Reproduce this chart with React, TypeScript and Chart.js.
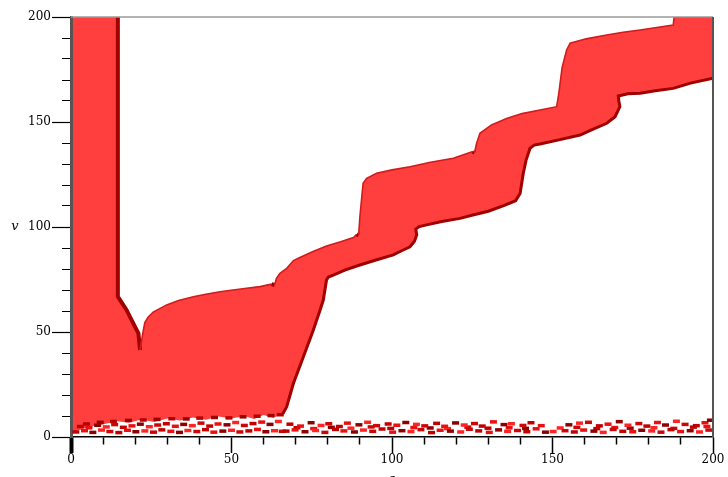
import React, { useEffect, useRef } from "react";
import { Chart, registerables } from "chart.js";

Chart.register(...registerables);

// ---- data ----
const xMajor = [0, 50, 100, 150, 200];
const yMajor = [0, 50, 100, 150, 200];
const xLabel = "ε";
const yLabel = "v";

// upper boundary of the red region (left to right)
const upperX = [0.6, 14.6, 14.6, 17.3, 19.4, 21.0, 21.5, 22.0, 22.5, 23.0, 24.0, 25.6, 29.8, 33.5, 38.1, 42.0, 46.4, 50.5, 54.7, 58.9, 62.5, 63.4, 64.0, 65.1, 67.2, 69.3, 71.3, 75.4, 79.6, 84.0, 88.0, 89.0, 89.6, 90.0, 90.5, 91.0, 92.1, 95.2, 100.0, 105.6, 112.0, 119.1, 125.2, 125.7, 126.3, 127.4, 131.0, 135.7, 140.5, 146.1, 151.3, 152.0, 153.0, 154.4, 155.5, 160.5, 166.9, 172.0, 177.3, 182.5, 187.6, 187.9, 200];
const upperY = [200, 200, 66.8, 60.5, 54.1, 49.4, 41.4, 46.0, 50.5, 54.5, 57.0, 59.5, 62.9, 65.0, 66.8, 68.0, 69.2, 70.0, 70.8, 71.6, 72.8, 72.4, 75.6, 77.9, 80.3, 84.0, 85.5, 88.3, 91.0, 93.0, 95.0, 96.5, 96.0, 104.9, 112.9, 120.8, 123.2, 125.6, 127.2, 128.7, 130.8, 132.7, 135.9, 135.3, 139.5, 144.6, 148.6, 151.7, 154.0, 155.7, 157.3, 164.0, 176.0, 184.3, 187.5, 189.6, 191.4, 192.7, 193.8, 195.0, 196.2, 200, 200];

// lower boundary of the red region (right to left)
const lowerX = [200, 193.0, 187.6, 182.0, 177.3, 173.5, 170.5, 170.6, 171.0, 169.5, 166.9, 162.5, 158.6, 152.0, 146.1, 144.3, 143.0, 141.8, 140.9, 139.9, 138.5, 135.0, 130.0, 125.5, 121.2, 115.5, 110.8, 108.5, 107.4, 107.7, 107.0, 105.6, 103.0, 100.4, 95.0, 90.0, 85.5, 81.7, 80.2, 79.6, 78.6, 77.6, 75.5, 72.4, 69.3, 67.2, 66.0, 63, 60, 57, 54, 50, 46, 42, 38, 34, 30, 26, 22, 18, 14, 10, 6, 3, 0.6];
const lowerY = [170.8, 168.5, 166.0, 164.9, 163.7, 163.4, 162.4, 160.5, 157.3, 152.5, 149.4, 146.5, 143.8, 141.5, 139.5, 139.0, 137.5, 132.0, 125.6, 116.0, 112.5, 110.3, 107.5, 105.8, 104.1, 102.6, 101.0, 100.2, 99.0, 96.2, 93.2, 90.6, 88.7, 86.7, 84.3, 81.9, 79.6, 77.1, 76.2, 74.8, 65.2, 60.5, 51.0, 38.2, 25.6, 14.4, 11.0, 9.2, 10.5, 8.6, 10.0, 8.8, 9.8, 8.2, 9.3, 7.8, 8.8, 7.2, 8.3, 6.8, 7.6, 6.0, 5.0, 3.5, 2.5];

// scattered blobs along the bottom
const blobsAX = [68.2, 71.5, 74.8, 77.9, 80.3, 83.6, 86.1, 89.7, 92.4, 95.2, 98.8, 101.5, 104.3, 107.6, 110.2, 113.9, 116.4, 119.8, 122.5, 125.7, 128.1, 131.6, 134.9, 137.2, 140.8, 143.3, 146.5, 155.1, 158.4, 161.2, 164.6, 167.3, 170.8, 173.5, 176.9, 179.4, 182.7, 185.2, 188.6, 191.3, 194.8, 197.5, 199.2];
const blobsAY = [6.1, 5.2, 6.8, 5.5, 6.3, 5.0, 6.6, 5.8, 7.0, 5.4, 6.2, 5.6, 6.9, 6.0, 5.3, 6.5, 5.1, 6.7, 5.7, 6.4, 5.2, 7.2, 5.9, 6.3, 5.5, 6.8, 5.4, 5.8, 6.6, 7.0, 5.3, 6.1, 7.3, 5.6, 6.4, 5.2, 6.9, 5.7, 7.5, 6.0, 5.4, 6.8, 8.0];
const blobsBX = [67.0, 69.8, 72.9, 76.2, 79.1, 82.4, 85.0, 88.3, 91.1, 94.0, 96.9, 100.2, 103.1, 105.9, 109.0, 112.3, 115.0, 118.2, 121.4, 124.1, 127.0, 130.3, 133.2, 136.0, 139.1, 142.0, 144.9, 147.8, 150.2, 153.9, 156.8, 159.7, 162.9, 165.8, 168.9, 171.9, 175.0, 177.8, 180.9, 183.8, 186.9, 189.9, 192.9, 195.8, 198.7];
const blobsBY = [2.8, 3.4, 2.5, 3.1, 2.2, 3.6, 2.9, 2.4, 3.3, 2.7, 3.8, 2.3, 3.0, 2.6, 3.5, 2.1, 3.2, 2.8, 2.4, 3.7, 2.9, 2.2, 3.4, 2.7, 3.1, 2.5, 3.9, 2.3, 2.6, 3.0, 2.4, 3.3, 2.8, 2.2, 3.6, 2.7, 2.5, 3.2, 2.9, 2.3, 3.5, 2.6, 3.0, 2.4, 3.3];
const blobsEX = [70.4, 75.6, 81.1, 87.2, 93.5, 99.6, 106.8, 111.9, 117.3, 123.6, 129.9, 136.5, 141.6, 152.4, 157.6, 163.8, 169.4, 174.2, 181.6, 187.8, 193.9, 198.1];
const blobsEY = [4.4, 4.0, 4.6, 4.2, 4.8, 4.1, 4.5, 4.3, 4.0, 4.7, 4.2, 4.4, 4.1, 4.3, 4.6, 4.0, 4.5, 4.2, 4.4, 4.1, 4.7, 5.0];
const blobsCX = [1.5, 4.2, 6.8, 9.5, 12.1, 14.9, 17.6, 20.2, 23.0, 25.7, 28.3, 31.1, 33.8, 36.4, 39.2, 41.9, 44.5, 47.3, 50.0, 52.6, 55.4, 58.1, 60.7, 63.4, 65.8];
const blobsCY = [2.4, 3.0, 2.2, 3.3, 2.6, 2.1, 3.2, 2.5, 2.9, 2.3, 3.4, 2.7, 2.2, 3.1, 2.6, 3.5, 2.3, 2.8, 3.2, 2.4, 2.9, 3.6, 2.5, 3.0, 2.7];
const blobsDX = [2.9, 5.6, 8.3, 11.0, 13.6, 16.3, 19.0, 21.6, 24.4, 27.0, 29.7, 32.5, 35.1, 37.8, 40.5, 43.2, 45.8, 48.6, 51.3, 54.0, 56.7, 59.4, 62.0, 64.6];
const blobsDY = [5.0, 4.4, 5.6, 4.8, 5.9, 4.6, 5.3, 6.1, 4.9, 5.7, 6.3, 5.1, 6.0, 5.4, 6.6, 5.2, 6.2, 5.8, 6.9, 5.5, 6.4, 7.1, 6.0, 7.4];
const blobsFX = [4.8, 9.1, 13.2, 17.9, 22.5, 26.8, 31.4, 35.9, 40.1, 44.7, 49.2, 53.6, 58.0, 62.3, 65.2];
const blobsFY = [6.2, 7.0, 7.4, 7.9, 8.1, 8.4, 8.7, 8.6, 9.0, 9.3, 9.1, 9.6, 9.9, 10.2, 10.6];

const zip = (xs: number[], ys: number[]) => xs.map((x, i) => ({ x, y: ys[i] }));

const FILL = "#ff3e3e";
const DARK = "#a00000";
const RIM = "#d01c1c";
const blobColors = ["#c00000", "#e81010", "#8c0000", "#ff2424", "#cc0606"];
const SERIF = '"DejaVu Serif", "Liberation Serif", serif';

const framePlugin = {
  id: "frame",
  afterDraw(chart: any) {
    const { ctx, chartArea } = chart;
    const { left, right, top, bottom } = chartArea;
    ctx.save();
    ctx.strokeStyle = "#9a9a9a";
    ctx.lineWidth = 1.5;
    ctx.beginPath();
    ctx.moveTo(left, top);
    ctx.lineTo(right, top);
    ctx.stroke();
    ctx.strokeStyle = "#555";
    ctx.lineWidth = 2;
    ctx.beginPath();
    ctx.moveTo(right, top);
    ctx.lineTo(right, bottom);
    ctx.stroke();
    ctx.fillStyle = "#000";
    ctx.font = `italic 13px ${SERIF}`;
    ctx.textAlign = "center";
    ctx.textBaseline = "middle";
    ctx.fillText(yLabel, 15, chart.scales.y.getPixelForValue(100));
    ctx.textBaseline = "top";
    ctx.fillText(xLabel, chart.scales.x.getPixelForValue(100), 473);
    ctx.restore();
  },
};

function blobDataset(xs: number[], ys: number[], dark = false) {
  return {
    type: "line" as const,
    data: zip(xs, ys),
    showLine: false,
    pointStyle: "line",
    pointRadius: 3.5,
    pointBorderWidth: 3.5,
    pointBorderColor: (c: any) => (dark ? (c.dataIndex % 2 ? "#9a0000" : "#b40000") : blobColors[c.dataIndex % blobColors.length]),
    pointBackgroundColor: "transparent",
  };
}

export default function App() {
  const ref = useRef<HTMLCanvasElement | null>(null);
  useEffect(() => {
    if (!ref.current) return;
    const polygon = [...zip(upperX, upperY), ...zip(lowerX, lowerY)];
    const upperEdge = zip(upperX, upperY).slice(1);
    const lowerEdge = zip(lowerX, lowerY).filter((p) => p.x >= 66);
    const chart = new Chart(ref.current, {
      type: "line",
      data: {
        datasets: [
          {
            data: upperEdge,
            borderColor: RIM,
            borderWidth: 2,
            pointRadius: 0,
            fill: false,
            tension: 0,
            segment: {
              borderColor: (c: any) => (c.p1.parsed.y < c.p0.parsed.y - 0.01 ? DARK : RIM),
              borderWidth: (c: any) => (c.p1.parsed.y < c.p0.parsed.y - 0.01 ? 4 : 1.6),
            },
          } as any,
          {
            data: lowerEdge,
            borderColor: DARK,
            borderWidth: 3,
            pointRadius: 0,
            fill: false,
            tension: 0,
          },
          blobDataset(blobsAX, blobsAY) as any,
          blobDataset(blobsBX, blobsBY) as any,
          blobDataset(blobsEX, blobsEY) as any,
          blobDataset(blobsCX, blobsCY) as any,
          blobDataset(blobsDX, blobsDY) as any,
          blobDataset(blobsFX, blobsFY, true) as any,
          {
            data: polygon,
            fill: "shape",
            backgroundColor: FILL,
            borderWidth: 0,
            borderColor: "transparent",
            pointRadius: 0,
            tension: 0,
          } as any,
        ],
      },
      options: {
        animation: false,
        responsive: false,
        events: [],
        layout: { padding: { top: 17, right: 15, left: 0, bottom: 0 } },
        plugins: { legend: { display: false }, tooltip: { enabled: false } },
        scales: {
          x: {
            type: "linear",
            min: 0,
            max: 200,
            afterFit: (s: any) => {
              s.height = 40;
            },
            ticks: {
              stepSize: 10,
              autoSkip: false,
              maxRotation: 0,
              padding: 0,
              color: "#000",
              font: { family: SERIF, size: 12 },
              callback: (v: any) => (xMajor.includes(Number(v)) ? String(v) : ""),
            },
            grid: {
              drawOnChartArea: false,
              drawTicks: true,
              tickLength: 16,
              tickColor: "#000",
              tickWidth: (c: any) => (c.tick && c.tick.value === 0 ? 4 : 1.5),
              tickBorderDash: (c: any) => (c.tick && xMajor.includes(c.tick.value) ? [] : [7, 100]),
            },
            border: { display: true, color: "#000", width: 1.5 },
          },
          y: {
            type: "linear",
            min: 0,
            max: 200,
            afterFit: (s: any) => {
              s.width = 71;
            },
            ticks: {
              stepSize: 10,
              autoSkip: false,
              padding: 1,
              color: "#000",
              font: { family: SERIF, size: 12 },
              callback: (v: any) => (yMajor.includes(Number(v)) ? String(v) : ""),
            },
            grid: {
              drawOnChartArea: false,
              drawTicks: true,
              tickLength: 19,
              tickColor: "#000",
              tickWidth: 1.2,
              tickBorderDash: (c: any) => (c.tick && yMajor.includes(c.tick.value) ? [] : [0, 10, 9, 100]),
            },
            border: { display: true, color: "#555", width: 3 },
          },
        },
      } as any,
      plugins: [framePlugin],
    });
    return () => chart.destroy();
  }, []);
  return (
    <div style={{ position: "absolute", left: 0, top: 0, width: 728, height: 477, background: "#fff" }}>
      <canvas ref={ref} width={728} height={477} style={{ display: "block" }} />
    </div>
  );
}
